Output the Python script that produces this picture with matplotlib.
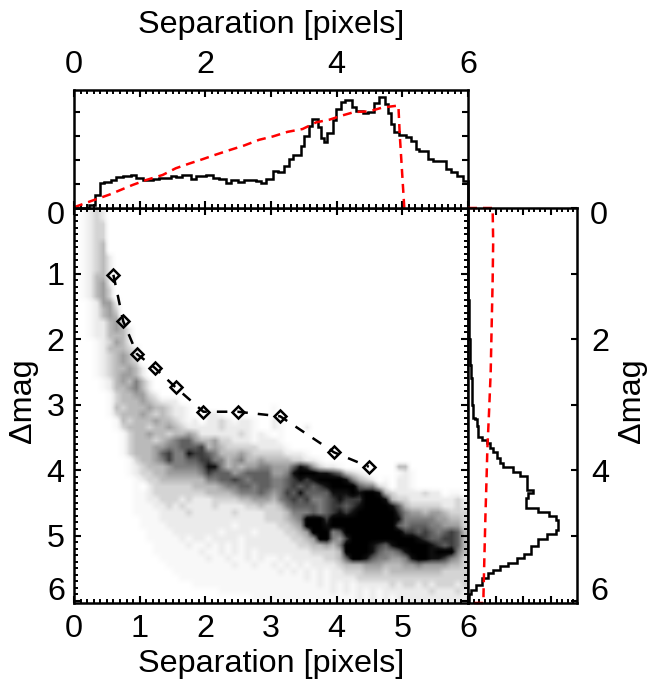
import numpy as np
import matplotlib
matplotlib.use("Agg")
import matplotlib.pyplot as plt
from matplotlib.colors import LinearSegmentedColormap
from matplotlib.ticker import FixedLocator

plt.rcParams['font.family'] = ['Liberation Sans', 'DejaVu Sans']

# ---- density map, one row per 0.1 mag, one digit per 0.1 pixel (0 empty, a faint, 9 densest)
density_rows = [
"0a121","0a121","0a122","0a122","0a122","0a123","0a123","0a1231","0a1231","0a1231",
"0a1331","0a1341","0a1342","0a1342","00a1441","00a1342","00a1343","00a11342","00a113431","00a113331",
"000a12431","000a133321","000a123431","000a123432","000a1233431","000a1234431","0000a13435 31","0000a13345 31","00000a2334 421","00000a2333 432111",
"00000a3233 3433211a00 0000000000 a",
"00000a2333 4323211a00 11a0000000 a",
"000000a323 3343321a10 1121a11a00 1a",
"000000a233 3233432111 1121111a00 1a0001",
"0000000a23 3433233431 1111121a1a 0a",
"0000000a23 3323456643 3422111a11 1a",
"0000000a23 3344556667 3432222211 11a",
"0000000a23 3346755877 6533343222 22111a",
"00000000a2 3345755667 7553453343 3332211a",
"00000000a1 2333455556 8853434455 4446874211 a000000003 3",
"00000000a1 2233444445 7666456666 4458999887 6321a0000a 1a",
"000000000a 1223333333 5566765666 5567878999 9853210a01 1a",
"000000000a 0122222233 3345566566 5567676789 9996552101 1a",
"000000000a a122222222 3333455565 4576866668 8898998321 1112110aa0",
"000000000a a112221211 1222233444 3567675567 8777999832 2111111121",
"000000000a aa11212111 1211112232 2356666567 7678999986 3222221121",
"000000000a aaa1111211 1111211112 2235556567 8789999997 5443443222",
"0000000000 aaa1111111 1111111112 2234599979 9999999998 5555544332",
"0000000000 aaaa111111 1111a11111 1223499989 9999999996 5666554442",
"0000000000 0aaaa11111 11a1111a11 1122349995 6999999999 7767656763",
"0000000000 0aaaaa1a11 a1111a1111 1112234995 4799999999 9987667763",
"0000000000 00aaaaa1aa 1a1a1a1111 1111223343 5999987689 9999876763",
"0000000000 00aaaaaaa1 aa1a1a1a11 1111112222 3999986556 8999899953",
"0000000000 000aaaaaaa 1aa1aa1a1a a1a1111122 3699865544 5899887542",
"0000000000 0000aaaaaa aaaa1aa1aa 1a1a1a1111 2333444333 4454444332",
"0000000000 00000aaaaa aaaaaaaaaa a1a1a1a1a1 1222333233 3333332222",
"0000000000 000000aaaa aaaaaaaaaa aaaaa1a1a1 1112222222 2222222222",
"0000000000 00000000aa aaaaaaaaaa aaaaaaa1a1 a1a1111121 2212122212",
"0000000000 0000000000 00aaaaaaaa aaaaaaaaa1 a1a1a1a111 1111211121",
"0000000000 0000000000 0000000aaa aaaaaaaaaa aaa1a1a1a1 1111111111",
"0000000000 0000000000 0000000aaa aaaaaaaaaa aaa1a1a1a1 1111111111",
]
digit_codes = "0a123456789"
gray_levels = [1.0, 0.975, 0.925, 0.83, 0.73, 0.62, 0.50, 0.38, 0.24, 0.06, 0.0]

# ---- contrast curve
curve_sep = [0.60, 0.75, 0.96, 1.23, 1.55, 1.97, 2.49, 3.14, 3.96, 4.49]
curve_mag = [1.02, 1.73, 2.23, 2.44, 2.74, 3.11, 3.11, 3.18, 3.73, 3.95]

# ---- separation histogram (top panel)
sep_edges = [0, .23, .32, .40, .46, .56, .64, .74, .87, .94,
             1.05, 1.20, 1.30, 1.40, 1.48, 1.55, 1.65, 1.78, 1.86, 2.01,
             2.11, 2.21, 2.31, 2.39, 2.49, 2.59, 2.70, 2.77, 2.85, 2.92,
             3.03, 3.10, 3.20, 3.28, 3.33, 3.46, 3.51, 3.58, 3.63, 3.71,
             3.76, 3.81, 3.86, 3.94, 3.99, 4.07, 4.12, 4.24, 4.30, 4.40,
             4.47, 4.57, 4.65, 4.73, 4.78, 4.83, 4.88, 4.95, 5.06, 5.13,
             5.21, 5.26, 5.39, 5.46, 5.66, 5.74, 5.84, 5.92, 5.98, 6.0]
sep_counts = [.01, .14, .54, 1.03, 1.10, 1.15, 1.30, 1.34, 1.37, 1.24,
              1.17, 1.20, 1.27, 1.24, 1.34, 1.30, 1.37, 1.23, 1.34, 1.38,
              1.27, 1.20, 1.06, 1.18, 1.08, 1.15, 1.15, 1.13, 1.06, 1.20,
              1.55, 1.51, 1.76, 2.04, 2.23, 2.61, 2.99, 3.41, 3.73, 3.38,
              2.93, 2.77, 3.14, 3.69, 4.15, 4.44, 4.51, 4.20, 4.06, 3.96,
              4.01, 4.37, 4.65, 4.34, 3.97, 3.52, 3.17, 3.03, 2.96, 2.82,
              2.46, 2.39, 2.04, 1.97, 1.62, 1.52, 1.34, 1.13, 1.13]
red_sep_x = [0, .28, .54, .89, 1.10, 1.35, 1.55, 1.76, 1.96, 2.16, 2.37, 2.59, 2.82,
             3.03, 3.25, 3.48, 3.69, 3.89, 4.09, 4.27, 4.50, 4.70, 4.94, 4.96, 5.03]
red_sep_y = [.03, .31, .56, .96, 1.17, 1.38, 1.66, 1.86, 2.04, 2.23, 2.42, 2.61, 2.85,
             2.99, 3.18, 3.30, 3.58, 3.69, 3.87, 4.01, 4.04, 4.20, 4.28, 3.10, 0]

# ---- magnitude histogram (right panel)
mag_edges = [0, 1.0, 1.4, 1.6, 1.8, 2.0, 2.2, 2.4, 2.6, 2.8, 3.0, 3.2, 3.22, 3.33, 3.49, 3.54, 3.58, 3.66, 3.73, 3.81,
             3.89, 3.96, 4.03, 4.09, 4.30, 4.35, 4.42, 4.58, 4.64, 4.70, 4.76, 4.91, 4.98,
             5.05, 5.16, 5.28, 5.34, 5.42, 5.47, 5.52, 5.57, 5.65, 5.75, 5.83, 5.90, 6.03]
mag_counts = [0, .01, .02, .04, .05, .07, .09, .11, .13, .15, .18, .27, .34, .37, .51, .67, .79, .91, 1.04, 1.16, 1.26,
              1.61, 1.89, 2.13, 2.34, 2.17, 2.11, 2.54, 2.93, 3.17, 3.26, 3.17, 2.87, 2.54,
              2.29, 2.01, 1.77, 1.46, 1.16, .91, .71, .51, .30, .12, .05]
red_mag_x = [0, .89, .91, .89, .85, .82, .76, .70, .67, .63, .59, .56, .56, 0]
red_mag_y = [0, 0, .52, 1.13, 1.90, 2.51, 3.12, 3.68, 4.14, 4.70, 5.37, 5.90, 6.03, 6.03]

major_seps = [0, 1, 2, 3, 4, 5, 6]
top_labels = ['0', '', '2', '', '4', '', '6']
bottom_labels = ['0', '1', '2', '3', '4', '5', '6']
main_mag_labels = ['', '1', '2', '3', '4', '5', '']
right_mag_labels = ['', '', '2', '', '4', '', '']

W, H = 649, 683
L, M, R = 74, 468, 577
T, C, B = 90, 208, 603
FS = 23.3
LW = 1.8

fig = plt.figure(figsize=(W / 100, H / 100), dpi=100)


def box(x0, x1, y0, y1):
    return [x0 / W, 1 - y1 / H, (x1 - x0) / W, (y1 - y0) / H]


def style(ax):
    for s in ax.spines.values():
        s.set_linewidth(1.8)
    ax.tick_params(which='major', direction='in', length=5, width=1.5, labelsize=FS,
                   top=True, right=True)
    ax.tick_params(which='minor', direction='in', length=2.8, width=1.4, top=True, right=True)


minor_sep = FixedLocator(np.arange(0, 6.01, 0.1))

# main panel
ax = fig.add_axes(box(L, M, C, B))
style(ax)
grid = np.array([[digit_codes.index(c) for c in r.replace(' ', '').ljust(60, '0')] for r in density_rows], float)
top_code = len(digit_codes) - 1
cmap = LinearSegmentedColormap.from_list('dens', [(i / top_code, (g, g, g)) for i, g in enumerate(gray_levels)])
ax.imshow(grid, cmap=cmap, vmin=0, vmax=top_code, extent=(0, 6, 6.1, 0), aspect='auto',
          interpolation='bilinear')
ax.plot(curve_sep, curve_mag, color='k', lw=LW, dashes=(4.2, 4), marker='D', ms=6.2,
        mfc='none', mec='k', mew=LW)
ax.set_xlim(0, 6)
ax.set_ylim(6.03, 0)
ax.set_xticks(major_seps, bottom_labels)
ax.xaxis.set_minor_locator(minor_sep)
ax.set_yticks(major_seps, main_mag_labels)
ax.yaxis.set_minor_locator(FixedLocator(np.arange(0, 6.01, 0.1)))
ax.tick_params(axis='x', which='major', pad=8)
ax.tick_params(axis='y', which='major', pad=7)

# top panel
at = fig.add_axes(box(L, M, T, C))
style(at)
at.stairs(sep_counts, sep_edges, baseline=0, color='k', lw=LW, clip_on=False)
at.plot(red_sep_x, red_sep_y, color='#ff0000', lw=LW, dashes=(3.6, 2.4), clip_on=False)
at.set_xlim(0, 6)
at.set_ylim(0, 4.93)
at.set_xticks(major_seps, top_labels)
at.xaxis.set_minor_locator(minor_sep)
at.set_yticks([1, 2, 3, 4], [])
at.tick_params(axis='y', which='major', length=4)
at.tick_params(axis='x', which='both', labelbottom=False, labeltop=True)
at.tick_params(axis='x', which='major', pad=7)

# right panel
ar = fig.add_axes(box(M, R, C, B))
style(ar)
ar.stairs(mag_counts, mag_edges, baseline=None, orientation='horizontal', color='k', lw=LW,
          clip_on=False)
ar.plot(red_mag_x, red_mag_y, color='#ff0000', lw=LW, dashes=(3.6, 2.4), clip_on=False)
ar.set_xlim(0, 3.94)
ar.set_ylim(6.03, 0)
ar.set_xticks([1, 2, 3], [])
ar.xaxis.set_minor_locator(FixedLocator(np.arange(0, 3.94, 0.2)))
ar.set_yticks(major_seps, right_mag_labels)
ar.tick_params(axis='y', which='major', left=False, right=True, labelleft=False,
               labelright=True, length=4, pad=10)

# end labels of the magnitude axes sit inside the axis range
fig.text(65 / W, 1 - 216 / H, '0', fontsize=FS, ha='right', va='center')
fig.text(65 / W, 1 - 592 / H, '6', fontsize=FS, ha='right', va='center')
fig.text(590 / W, 1 - 216 / H, '0', fontsize=FS, ha='left', va='center')
fig.text(590 / W, 1 - 592 / H, '6', fontsize=FS, ha='left', va='center')

fig.text(271 / W, 1 - 25 / H, 'Separation [pixels]', fontsize=FS, ha='center', va='center')
fig.text(271 / W, 1 - 664 / H, 'Separation [pixels]', fontsize=FS, ha='center', va='center')
fig.text(23 / W, 1 - 401 / H, 'Δmag', fontsize=FS, rotation=90, ha='center', va='center')
fig.text(632 / W, 1 - 401 / H, 'Δmag', fontsize=FS, rotation=90, ha='center', va='center')

fig.savefig('out.png', dpi=100)
